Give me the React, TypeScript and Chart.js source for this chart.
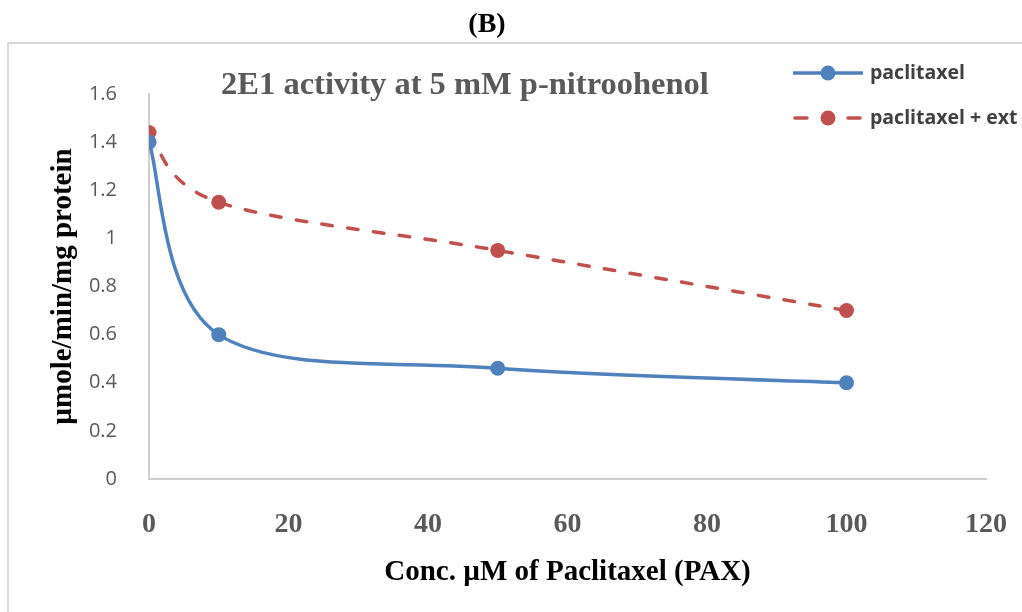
import React, { useEffect, useRef } from "react";
import { Chart, registerables } from "chart.js";

Chart.register(...registerables);

// ---- data ----
const xValues = [0, 10, 50, 100];
const paclitaxel = [1.4, 0.6, 0.46, 0.4];
const paclitaxelExt = [1.44, 1.15, 0.95, 0.7];
const seriesLabels = ["paclitaxel", "paclitaxel + ext"];
const figureLabel = "(B)";
const chartTitle = "2E1 activity at 5 mM p-nitroohenol";
const xAxisTitle = "Conc. µM of Paclitaxel (PAX)";
const yAxisTitle = "µmole/min/mg protein";
const xTicks = { min: 0, max: 120, step: 20 };
const yTicks = { min: 0, max: 1.6, step: 0.2 };

const BLUE = "#4F81BD";
const RED = "#C0504D";
const SERIF = '"Liberation Serif", "Times New Roman", serif';
const SANS = '"Open Sans", "Noto Sans", sans-serif';

// Excel-like smoothing: control points at 1/6 of neighbour difference
const excelSmoothPlugin = {
  id: "excelSmooth",
  beforeDatasetsDraw(chart: any) {
    chart.data.datasets.forEach((_ds: any, i: number) => {
      const meta = chart.getDatasetMeta(i);
      if (!meta || !meta.dataset) return;
      meta.dataset.updateControlPoints(chart.chartArea, "x");
      const pts = meta.data;
      const n = pts.length;
      for (let k = 0; k < n; k++) {
        const p = pts[k];
        const prev = pts[Math.max(0, k - 1)];
        const next = pts[Math.min(n - 1, k + 1)];
        const dx = (next.x - prev.x) / 6;
        const dy = (next.y - prev.y) / 6;
        p.cp1x = p.x - dx;
        p.cp1y = p.y - dy;
        p.cp2x = p.x + dx;
        p.cp2y = p.y + dy;
      }
      meta.dataset._path = undefined;
    });
  },
};

const decorPlugin = {
  id: "decor",
  beforeDraw(chart: any) {
    const ctx = chart.ctx;
    ctx.save();
    ctx.fillStyle = "#ffffff";
    ctx.fillRect(0, 0, chart.width, chart.height);
    ctx.strokeStyle = "#d9d9d9";
    ctx.lineWidth = 2;
    ctx.strokeRect(8, 43, chart.width + 20, chart.height + 20);
    ctx.fillStyle = "#000000";
    ctx.font = `bold 28px ${SERIF}`;
    ctx.textAlign = "center";
    ctx.textBaseline = "middle";
    ctx.fillText(figureLabel, 487, 25);
    ctx.fillStyle = "#595959";
    ctx.font = `bold 32.5px ${SERIF}`;
    ctx.fillText(chartTitle, 465, 86);
    ctx.restore();
  },
  afterDraw(chart: any) {
    const ctx = chart.ctx;
    ctx.save();
    chart.data.datasets.forEach((ds: any, i: number) => {
      const y = 73 + i * 45;
      ctx.strokeStyle = ds.borderColor;
      ctx.lineWidth = ds.borderWidth;
      ctx.beginPath();
      if (ds.borderDash && ds.borderDash.length) {
        ctx.lineCap = "round";
        ctx.moveTo(795, y);
        ctx.lineTo(807, y);
        ctx.moveTo(848, y);
        ctx.lineTo(860, y);
      } else {
        ctx.lineCap = "butt";
        ctx.moveTo(793, y);
        ctx.lineTo(863, y);
      }
      ctx.stroke();
      ctx.fillStyle = ds.pointBackgroundColor;
      ctx.beginPath();
      ctx.arc(828, y, ds.pointRadius, 0, Math.PI * 2);
      ctx.fill();
      ctx.fillStyle = "#404040";
      ctx.font = `bold 19.5px ${SANS}`;
      ctx.textAlign = "left";
      ctx.textBaseline = "middle";
      ctx.fillText(ds.label, 870, y);
    });
    ctx.restore();
  },
};

export default function App() {
  const canvasRef = useRef<HTMLCanvasElement | null>(null);

  useEffect(() => {
    if (!canvasRef.current) return;
    const chart = new Chart(canvasRef.current, {
      type: "line",
      data: {
        datasets: [
          {
            label: seriesLabels[0],
            data: xValues.map((x, i) => ({ x, y: paclitaxel[i] })),
            borderColor: BLUE,
            backgroundColor: BLUE,
            pointBackgroundColor: BLUE,
            pointBorderColor: BLUE,
            borderWidth: 3.5,
            pointRadius: 7.5,
            pointBorderWidth: 0,
            tension: 0.4,
            fill: false,
          },
          {
            label: seriesLabels[1],
            data: xValues.map((x, i) => ({ x, y: paclitaxelExt[i] })),
            borderColor: RED,
            backgroundColor: RED,
            pointBackgroundColor: RED,
            pointBorderColor: RED,
            borderWidth: 3.5,
            borderDash: [10.5, 15.5],
            borderCapStyle: "round",
            pointRadius: 7.5,
            pointBorderWidth: 0,
            tension: 0.4,
            fill: false,
          },
        ],
      },
      options: {
        responsive: false,
        animation: false,
        devicePixelRatio: 1,
        layout: { padding: { top: 94, right: 36, left: 0, bottom: 0 } },
        plugins: {
          legend: { display: false },
          title: { display: false },
          tooltip: { enabled: false },
        },
        scales: {
          x: {
            type: "linear",
            min: xTicks.min,
            max: xTicks.max,
            afterFit: (s: any) => {
              s.height = 133;
              s.paddingLeft = 0;
              s.paddingRight = 0;
            },
            ticks: {
              stepSize: xTicks.step,
              padding: 21,
              color: "#595959",
              font: { family: SERIF, size: 28, weight: "bold" },
            },
            grid: { display: false },
            border: { display: true, color: "#cfcfcf", width: 2 },
            title: {
              display: true,
              text: xAxisTitle,
              color: "#000000",
              font: { family: SERIF, size: 29, weight: "bold" },
              padding: { top: 0, bottom: 22 },
            },
          },
          y: {
            type: "linear",
            min: yTicks.min,
            max: yTicks.max,
            afterFit: (s: any) => {
              s.width = 149;
            },
            ticks: {
              stepSize: yTicks.step,
              padding: 24,
              color: "#595959",
              font: { family: SANS, size: 20 },
              callback: (v: any) => String(Number(Number(v).toFixed(1))),
            },
            grid: { display: false },
            border: { display: true, color: "#cfcfcf", width: 2 },
            title: {
              display: true,
              text: yAxisTitle,
              color: "#000000",
              font: { family: SERIF, size: 29, weight: "bold" },
              padding: { top: 46, bottom: 0 },
            },
          },
        },
      } as any,
      plugins: [decorPlugin, excelSmoothPlugin],
    });
    return () => chart.destroy();
  }, []);

  return (
    <div style={{ position: "fixed", left: 0, top: 0, width: 1022, height: 612, background: "#fff" }}>
      <canvas ref={canvasRef} width={1022} height={612} style={{ width: 1022, height: 612, display: "block" }} />
    </div>
  );
}
